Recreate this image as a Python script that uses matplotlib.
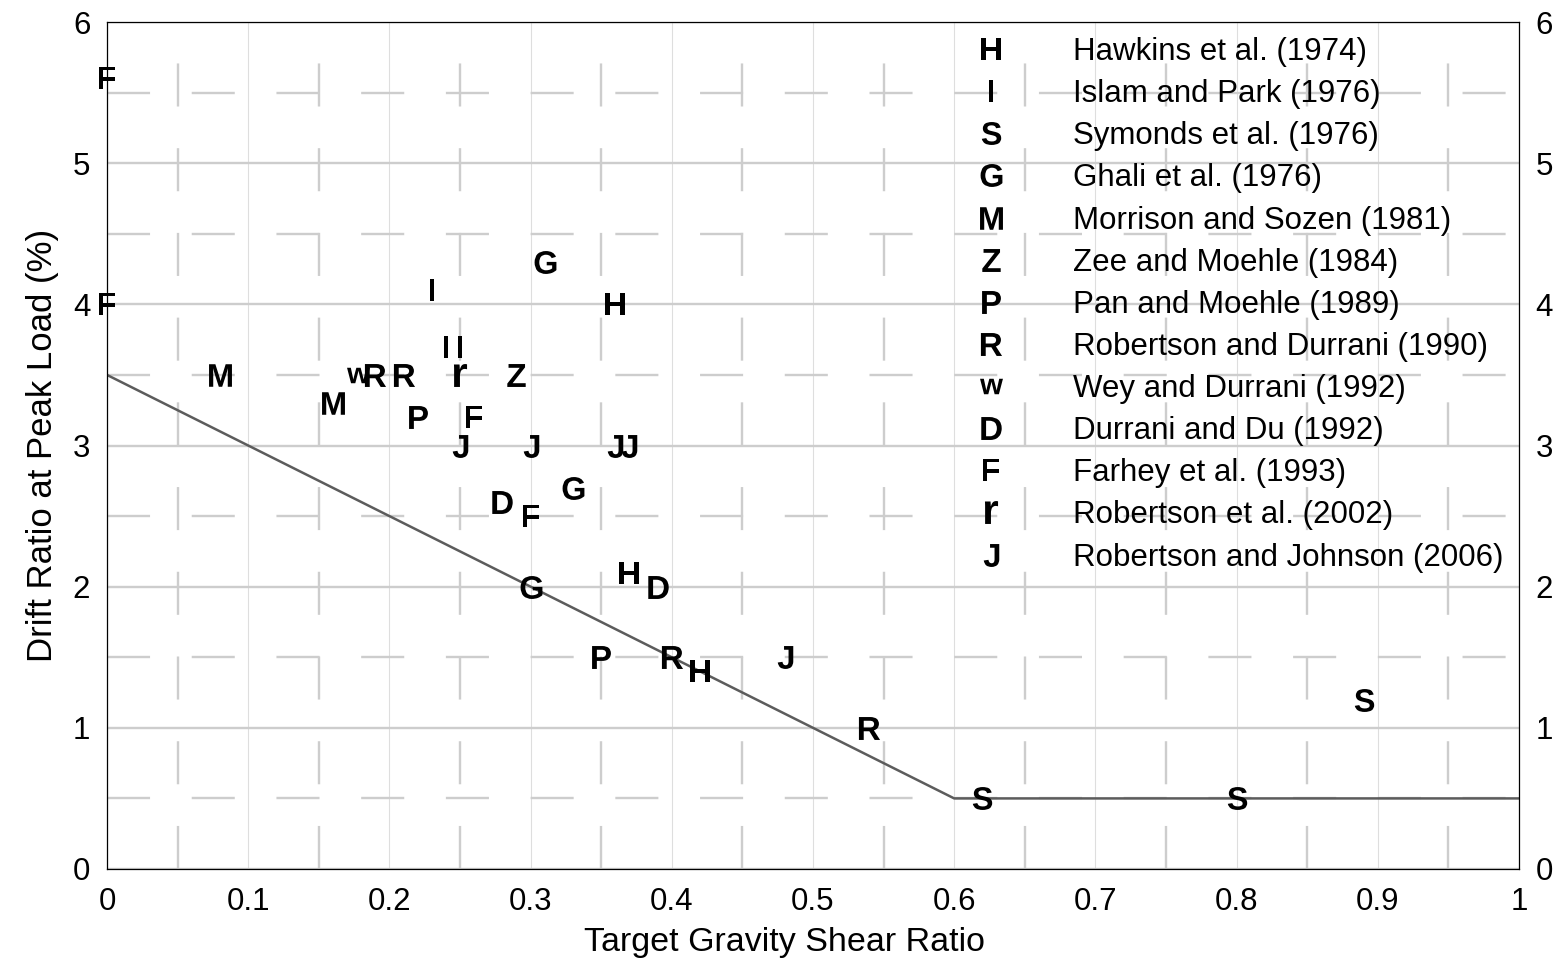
import numpy as np
import matplotlib
matplotlib.use('Agg')
import matplotlib.pyplot as plt
from matplotlib.lines import Line2D

plt.rcParams['font.family'] = ['Liberation Sans', 'DejaVu Sans']
plt.rcParams['mathtext.fontset'] = 'custom'
plt.rcParams['mathtext.rm'] = 'Liberation Sans'
plt.rcParams['mathtext.it'] = 'Liberation Sans:italic'
plt.rcParams['mathtext.bf'] = 'Liberation Sans:bold'
plt.rcParams['lines.scale_dashes'] = False

# ---- data ----
letters = ['H', 'I', 'S', 'G', 'M', 'Z', 'P', 'R', 'w', 'D', 'F', 'r', 'J']
labels = ['Hawkins et al. (1974)', 'Islam and Park (1976)', 'Symonds et al. (1976)',
          'Ghali et al. (1976)', 'Morrison and Sozen (1981)', 'Zee and Moehle (1984)',
          'Pan and Moehle (1989)', 'Robertson and Durrani (1990)', 'Wey and Durrani (1992)',
          'Durrani and Du (1992)', 'Farhey et al. (1993)', 'Robertson et al. (2002)',
          'Robertson and Johnson (2006)']

hawkins_x = [0.36, 0.37, 0.42]
hawkins_y = [4.0, 2.1, 1.4]
islam_x = [0.23, 0.24, 0.25]
islam_y = [4.1, 3.7, 3.7]
symonds_x = [0.62, 0.80, 0.89]
symonds_y = [0.5, 0.5, 1.2]
ghali_x = [0.31, 0.33, 0.30]
ghali_y = [4.3, 2.7, 2.0]
morrison_x = [0.08, 0.16]
morrison_y = [3.5, 3.3]
zee_x = [0.29]
zee_y = [3.5]
pan_x = [0.22, 0.35]
pan_y = [3.2, 1.5]
robdur_x = [0.19, 0.21, 0.40, 0.54]
robdur_y = [3.5, 3.5, 1.5, 1.0]
wey_x = [0.178]
wey_y = [3.5]
durrani_x = [0.28, 0.39]
durrani_y = [2.6, 2.0]
farhey_x = [0.0, 0.0, 0.26, 0.30]
farhey_y = [5.6, 4.0, 3.2, 2.5]
rob2002_x = [0.25]
rob2002_y = [3.5]
robjohn_x = [0.25, 0.30, 0.36, 0.37, 0.48]
robjohn_y = [3.0, 3.0, 3.0, 3.0, 1.5]

limit_x = [0.0, 0.6, 1.0]
limit_y = [3.5, 0.5, 0.5]

x_ticklabels = ['0', '0.1', '0.2', '0.3', '0.4', '0.5', '0.6', '0.7', '0.8', '0.9', '1']
y_ticklabels = ['0', '1', '2', '3', '4', '5', '6']

series_x = [hawkins_x, islam_x, symonds_x, ghali_x, morrison_x, zee_x, pan_x,
            robdur_x, wey_x, durrani_x, farhey_x, rob2002_x, robjohn_x]
series_y = [hawkins_y, islam_y, symonds_y, ghali_y, morrison_y, zee_y, pan_y,
            robdur_y, wey_y, durrani_y, farhey_y, rob2002_y, robjohn_y]

# ---- figure ----
fig = plt.figure(figsize=(15.64, 9.64), dpi=100)
ax = fig.add_axes([107/1564, 1 - 869/964, 1412/1564, 847/964])

ax.set_xlim(0, 1)
ax.set_ylim(0, 6)
ax.set_xticks(np.arange(0, 1.01, 0.1))
ax.set_xticks(np.arange(0.05, 1.0, 0.1), minor=True)
ax.set_yticks(np.arange(0, 7, 1))
ax.set_yticks(np.arange(0.5, 6, 1), minor=True)
ax.set_xticklabels(x_ticklabels)
ax.set_yticklabels(y_ticklabels)

ax.grid(which='major', axis='x', color='#dedede', lw=0.8, zorder=0)
ax.grid(which='major', axis='y', color='#cdcdcd', lw=1.7, zorder=0)
ax.grid(which='minor', axis='both', color='#cdcdcd', lw=1.7, ls=(0, (31, 30)), zorder=0)
ax.set_axisbelow(True)

ax.tick_params(which='both', length=0)
ax.tick_params(axis='x', labelsize=22.5, pad=13)
ax.tick_params(axis='y', labelsize=22.5, pad=12, labelright=True)
for sp in ax.spines.values():
    sp.set_color('black')
    sp.set_linewidth(0.9)

ax.plot(limit_x, limit_y, color='#5c5c5c', lw=1.8, zorder=2)

ms = 16.5
for lt, xs, ys in zip(letters, series_x, series_y):
    ax.plot(xs, ys, ls='none', marker='$\\mathbf{%s}$' % lt, color='black',
            markersize=ms, markeredgewidth=0, zorder=3, clip_on=False)

handles = [Line2D([], [], ls='none', marker='$\\mathbf{%s}$' % lt, color='black',
                  markersize=ms, markeredgewidth=0) for lt in letters]
ax.legend(handles, labels, loc='upper left', bbox_to_anchor=(0.595, 0.997),
          frameon=False, fontsize=22.5, handlelength=2.0, handletextpad=1.62,
          labelspacing=0.388, borderaxespad=0, borderpad=0.4)

ax.set_xlabel('Target Gravity Shear Ratio', fontsize=24.5)
ax.xaxis.set_label_coords(0.480, -0.068, transform=ax.transAxes)
ax.xaxis.label.set_va('top')
ax.set_ylabel('Drift Ratio at Peak Load (%)', fontsize=25, labelpad=10)

fig.savefig('out.png', dpi=100)
